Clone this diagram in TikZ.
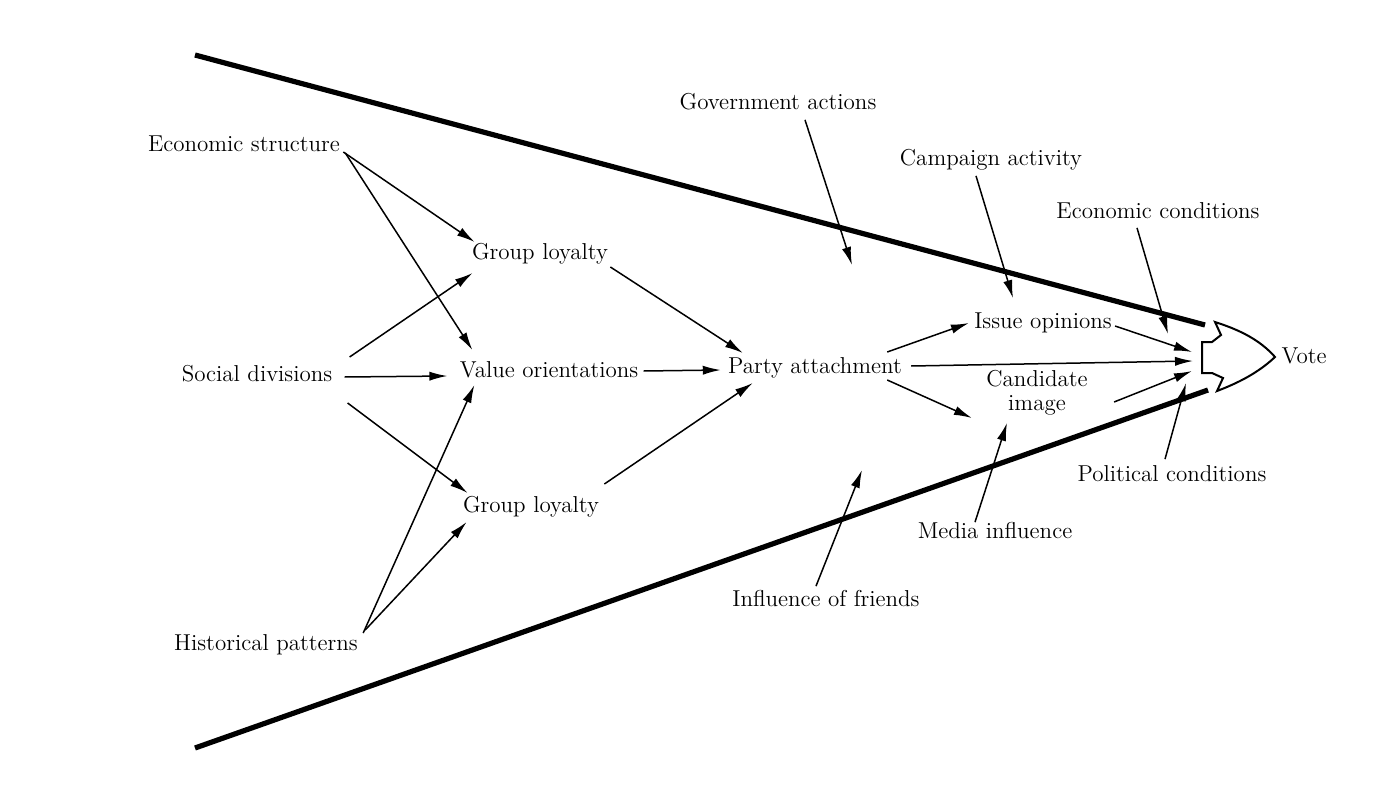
\documentclass[tikz,border=0pt]{standalone}
\usetikzlibrary{arrows.meta,calc}
\begin{document}
\begin{tikzpicture}[x=0.5pt,y=-0.5pt,
  lbl/.style={inner sep=0pt,text height=8pt,text depth=2.5pt,font=\fontsize{11.5}{12}\selectfont},
  arr/.style={line width=0.75pt,-{Latex[length=9pt,width=4.6pt]}},
  thick line/.style={line width=2.6pt},
  bigarrow/.style={line width=1pt,fill=white,line join=miter}]
\useasboundingbox (0,0) rectangle (1400,791);
% labels
\node[lbl] (es) at (244,146) {Economic structure};
\node[lbl] (sd) at (257,376) {Social divisions};
\node[lbl] (hp) at (266,645) {Historical patterns};
\node[lbl] (gl1) at (540,254) {Group loyalty};
\node[lbl] (vo) at (549,372) {Value orientations};
\node[lbl] (gl2) at (531,507) {Group loyalty};
\node[lbl] (pa) at (815,368) {Party attachment};
\node[lbl] (ga) at (778,104) {Government actions};
\node[lbl] (ca) at (991,160) {Campaign activity};
\node[lbl] (ec) at (1158,213) {Economic conditions};
\node[lbl] (io) at (1043,323) {Issue opinions};
\node[lbl,align=center] (ci) at (1037,405) {Candidate\\image};
\node[lbl] (pc) at (1172,476) {Political conditions};
\node[lbl] (mi) at (995,533) {Media influence};
\node[lbl] (fr) at (826,601) {Influence of friends};
\node[lbl] (vote) at (1304,358) {Vote};
% funnel lines
\coordinate (tl1) at (195,55);
\coordinate (tl2) at (1205,325);
\coordinate (bl1) at (195,748);
\coordinate (bl2) at (1208,390);
\draw[thick line] (tl1) -- (tl2);
\draw[thick line] (bl1) -- (bl2);
% free ends
\coordinate (gaE) at (852,265);
\coordinate (ecE) at (1168,334);
\coordinate (pcE) at (1186,383);
\coordinate (frE) at (862,470);
\coordinate (v1) at (1192,352);
\coordinate (v2) at (1193,361);
\coordinate (v3) at (1192,371);
% block arrow
\coordinate (b1) at (1202,342);
\coordinate (b2) at (1212,342);
\coordinate (b3) at (1221,335);
\coordinate (b4) at (1215,322);
\coordinate (b5) at (1275,357);
\coordinate (b6) at (1217,391);
\coordinate (b7) at (1223,378);
\coordinate (b8) at (1212,373);
\coordinate (b9) at (1202,373);
\draw[bigarrow] (b1) -- (b2) -- (b3) -- (b4) .. controls (1240,330) and (1260,340) .. (b5)
  .. controls (1258,373) and (1238,383) .. (b6) -- (b7) -- (b8) -- (b9) -- cycle;
% arrows
\draw[arr] ($(es.east)+(3,6)$) -- ($(gl1.west)+(3,-12)$);
\draw[arr] ($(es.east)+(5,7)$) -- ($(vo.west)+(13,-22)$);
\draw[arr] ($(sd.east)+(17,-19)$) -- ($(gl1.west)+(1,19)$);
\draw[arr] ($(sd.east)+(12,1)$) -- ($(vo.west)+(-12,4)$);
\draw[arr] ($(sd.east)+(15,27)$) -- ($(gl2.west)+(5,-14)$);
\draw[arr] ($(hp.east)+(5,-12)$) -- ($(vo.west)+(15,13)$);
\draw[arr] ($(hp.east)+(7,-15)$) -- ($(gl2.west)+(4,15)$);
\draw[arr] ($(gl1.east)+(2,13)$) -- ($(pa.west)+(15,-15)$);
\draw[arr] ($(vo.east)+(5,-1)$) -- ($(pa.west)+(-7,2)$);
\draw[arr] ($(gl2.east)+(5,-23)$) -- ($(pa.west)+(25,15)$);
\draw[arr] ($(pa.east)+(-15,-16)$) -- ($(io.west)+(-5,0)$);
\draw[arr] ($(pa.east)+(-15,12)$) -- ($(ci.west)+(-14,13)$);
\draw[arr] ($(pa.east)+(9,-2)$) -- (v2);
\draw[arr] ($(io.east)+(3,3)$) -- (v1);
\draw[arr] ($(ci.east)+(26,-3)$) -- (v3);
\draw[arr] ($(ga.south)+(27,5)$) -- (gaE);
\draw[arr] ($(ca.south)+(-15,5)$) -- ($(io.north)+(-30,-14)$);
\draw[arr] ($(ec.south)+(-21,4)$) -- (ecE);
\draw[arr] ($(pc.north)+(-7,-6)$) -- (pcE);
\draw[arr] ($(mi.north)+(-20,0)$) -- ($(ci.south)+(-30,7)$);
\draw[arr] ($(fr.north)+(-10,-4)$) -- (frE);
\end{tikzpicture}
\end{document}
